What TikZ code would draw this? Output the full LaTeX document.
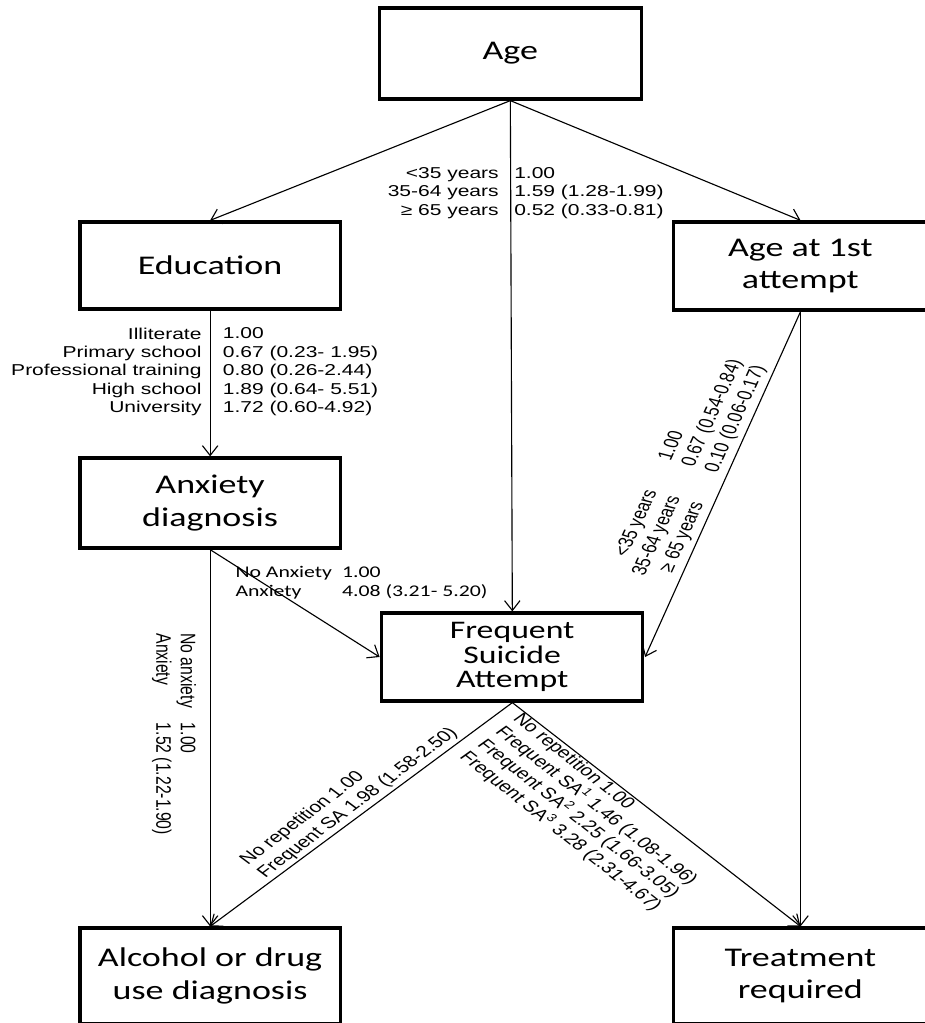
\documentclass[tikz,border=0pt]{standalone}
\usepackage{fontspec}
\setmainfont{Liberation Sans}
\newfontfamily\boxfont{Carlito}
\usetikzlibrary{arrows.meta}
\usetikzlibrary{positioning}

\begin{document}
\begin{tikzpicture}
        [x=0.01875cm, y=-0.025cm, xscale=1.33333, transform shape,
        factor/.style={rectangle,draw=black,line width=2.3pt,minimum width=4.875cm,minimum height=2.2cm,inner sep=2pt,align=center,
          font=\boxfont\fontsize{19.2pt}{23.4pt}\selectfont},
        effect/.style={inner sep=0pt,font=\fontsize{11.2pt}{13.1pt}\selectfont},
        link/.style={-{Straight Barb[length=7pt,width=11pt]},line width=0.8pt}]

\useasboundingbox (0,0) rectangle (924,1023);

\begin{scope}

% factors
\node[factor,minimum width=4.9125cm,minimum height=2.275cm] at (510,53.5) (age) {Age};

\node[factor,minimum height=2.175cm] at (210,265.5) (edu) {Education};

\node[factor,minimum width=4.7625cm] at (800,266) (first) {Age at 1st\\attempt};

\node[factor,minimum height=2.25cm] at (210,503) (anx) {Anxiety\\diagnosis};

\node[factor,minimum width=4.894cm,font=\boxfont\fontsize{18pt}{17.7pt}\selectfont] at (512,657) (fsa) {Frequent\\Suicide\\Attempt};

\node[factor,minimum height=2.4cm] at (210,976) (alc) {Alcohol or drug\\use diagnosis};

\node[factor,minimum width=4.7625cm,minimum height=2.4cm] at (800,976) (treat) {Treatment\\required};


%arrows
\draw[link] (age.south) -- (edu.north);
\draw[link] (age.south) -- (first.north);
\draw[link] (age.south) -- node[effect,pos=0.181,left,inner xsep=6pt,align=right] {<35 years\\35-64 years\\≥ 65 years}
                           node[effect,pos=0.181,right,inner xsep=1.5pt,align=left] {1.00\\1.59 (1.28-1.99)\\0.52 (0.33-0.81)} (fsa.north);

\draw[link] (edu.south) -- node[effect,pos=0.42,left,inner xsep=4.2pt,align=right] {Illiterate\\Primary school\\Professional training\\High school\\University}
                           node[effect,pos=0.42,right,inner xsep=6.4pt,align=left] {1.00\\0.67 (0.23- 1.95)\\0.80 (0.26-2.44)\\1.89 (0.64- 5.51)\\1.72 (0.60-4.92)} (anx.north);

\draw[link] (anx.south) -- (fsa.west);
\path (anx.south) ++(25,28) node[effect,anchor=base west,font=\boxfont\fontsize{11.6pt}{13.5pt}\selectfont] (anxlab)
  {\begin{tabular}[t]{@{}l@{\hspace{0.19cm}}l@{}}No Anxiety & 1.00\\Anxiety & 4.08 (3.21- 5.20)\end{tabular}};

\draw[link] (first.south) -- node[effect,pos=0.48,rotate=71.2,anchor=south,inner sep=1pt]
  {\begin{tabular}{@{}r@{\hspace{0.79cm}}l@{}}<35 years & 1.00\\35-64 years & 0.67 (0.54-0.84)\\≥ 65 years & 0.10 (0.06-0.17)\end{tabular}} (fsa.east);

\draw[link] (anx.south) -- node[effect,pos=0.49,rotate=-90,anchor=north,inner ysep=6pt]
  {\begin{tabular}{@{}l@{\hspace{0.375cm}}l@{}}No anxiety & 1.00\\Anxiety & 1.52 (1.22-1.90)\end{tabular}} (alc.north);

\draw[link] (first.south) -- (treat.north);

\draw[link] (fsa.south) -- node[effect,pos=0.48,rotate=45.1,anchor=south,inner sep=1.5pt,align=left]
  {No repetition 1.00\\Frequent SA 1.98 (1.58-2.50)} (alc.north);

\draw[link] (fsa.south) -- node[effect,pos=0.38,rotate=-46.4,anchor=north,inner sep=0.5pt,align=left]
  {No repetition 1.00\\Frequent SA\textsuperscript{1} 1.46 (1.08-1.96)\\Frequent SA\textsuperscript{2} 2.25 (1.66-3.05)\\Frequent SA\textsuperscript{3} 3.28 (2.31-4.67)} (treat.north);

\end{scope}

\end{tikzpicture}
\end{document}
